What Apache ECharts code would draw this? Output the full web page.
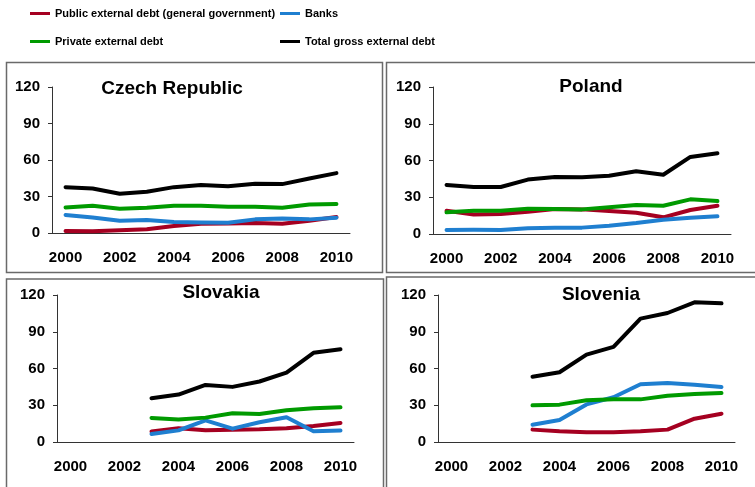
<!DOCTYPE html>
<html>
<head>
<meta charset="utf-8">
<script src="https://cdn.jsdelivr.net/npm/echarts@6/dist/echarts.min.js"></script>
<style>
  html, body { margin: 0; padding: 0; background: #fff; }
  #chart { width: 755px; height: 487px; }
</style>
</head>
<body>
<div id="chart"></div>
<script>
// years on the x axis, values in % of GDP
const years = ['2000', '2001', '2002', '2003', '2004', '2005', '2006', '2007', '2008', '2009', '2010'];
const yTicks = [0, 30, 60, 90, 120];
const seriesNames = ['Public external debt (general government)', 'Banks', 'Private external debt', 'Total gross external debt'];
const seriesColors = ['#a50021', '#1f7fd0', '#009a00', '#000000'];
const countries = ['Czech Republic', 'Poland', 'Slovakia', 'Slovenia'];

const czPublic  = [1.6, 1.4, 2.2, 3.0, 5.7, 7.6, 7.9, 8.2, 7.6, 10.1, 13.1];
const czBanks   = [14.8, 12.8, 10.1, 10.7, 9.0, 8.7, 8.5, 11.2, 12.0, 11.2, 12.6];
const czPrivate = [21.0, 22.4, 20.0, 20.8, 22.4, 22.4, 21.6, 21.6, 20.8, 23.5, 23.8];
const czTotal   = [37.7, 36.6, 32.3, 33.9, 37.7, 39.4, 38.5, 40.5, 40.2, 44.8, 49.2];

const plPublic  = [19.0, 16.0, 16.3, 18.2, 20.4, 20.1, 18.8, 17.4, 13.6, 19.6, 23.1];
const plBanks   = [3.3, 3.5, 3.3, 4.6, 5.2, 5.2, 6.8, 9.0, 11.7, 13.3, 14.4];
const plPrivate = [17.7, 19.0, 19.0, 20.7, 20.4, 20.1, 21.8, 23.7, 23.1, 28.3, 26.9];
const plTotal   = [40.0, 38.4, 38.4, 44.4, 46.5, 46.3, 47.6, 51.2, 48.4, 62.9, 65.9];

const skPublic  = [null, null, null, 8.5, 11.2, 9.5, 10.1, 10.4, 11.2, 13.1, 15.5];
const skBanks   = [null, null, null, 6.5, 9.5, 17.7, 10.9, 16.1, 20.2, 8.7, 9.3];
const skPrivate = [null, null, null, 19.6, 18.3, 19.9, 23.5, 22.9, 25.9, 27.5, 28.4];
const skTotal   = [null, null, null, 35.7, 38.7, 46.6, 45.0, 49.4, 56.7, 72.8, 75.8];

const siPublic  = [null, null, null, 10.1, 8.7, 7.9, 7.9, 8.7, 10.1, 19.0, 23.1];
const siBanks   = [null, null, null, 14.1, 18.0, 30.7, 36.5, 47.1, 48.2, 46.8, 44.9];
const siPrivate = [null, null, null, 29.9, 30.5, 34.0, 34.8, 34.8, 37.8, 39.2, 40.0];
const siTotal   = [null, null, null, 53.3, 56.9, 71.3, 77.6, 100.7, 105.3, 114.0, 113.2];

const panelData = [
  [czPublic, czBanks, czPrivate, czTotal],
  [plPublic, plBanks, plPrivate, plTotal],
  [skPublic, skBanks, skPrivate, skTotal],
  [siPublic, siBanks, siPrivate, siTotal]
];

// layout of the four panels
const grids = [
  { left: 52, top: 87, width: 298, height: 146 },
  { left: 433, top: 87, width: 298, height: 147 },
  { left: 57, top: 295, width: 297, height: 147 },
  { left: 438, top: 295, width: 297, height: 147 }
];
const titlePos = [[172, 89], [591, 87], [221, 293], [601, 295]];
const boxes = [
  { x: 6.5, y: 62.5, width: 376, height: 210 },
  { x: 386.5, y: 62.5, width: 380, height: 210 },
  { x: 6.5, y: 279, width: 377, height: 220 },
  { x: 386.5, y: 277, width: 380, height: 220 }
];
const legendPos = [[30, 8], [280, 8], [30, 36], [280, 36]];

const boldFont = 'Liberation Sans, Arial, sans-serif';
const axisColor = '#333';

const option = {
  animation: false,
  backgroundColor: '#fff',
  grid: grids.map(g => Object.assign({ containLabel: false }, g)),
  legend: seriesNames.map((name, i) => ({
    data: [name],
    left: legendPos[i][0],
    top: legendPos[i][1],
    padding: 0,
    icon: 'rect',
    itemWidth: 20,
    itemHeight: 3,
    textStyle: { fontFamily: boldFont, fontWeight: 'bold', fontSize: 11, color: '#000' }
  })),
  xAxis: grids.map((g, i) => ({
    type: 'category',
    gridIndex: i,
    data: years,
    boundaryGap: true,
    axisLine: { lineStyle: { color: axisColor, width: 1 } },
    axisTick: { interval: 0, length: 4, lineStyle: { color: axisColor } },
    axisLabel: {
      interval: 1, margin: 17,
      fontFamily: boldFont, fontWeight: 'bold', fontSize: 15, color: '#000'
    },
    splitLine: { show: false }
  })),
  yAxis: grids.map((g, i) => ({
    type: 'value',
    gridIndex: i,
    min: yTicks[0],
    max: yTicks[yTicks.length - 1],
    interval: yTicks[1] - yTicks[0],
    axisLine: { show: true, lineStyle: { color: axisColor, width: 1 } },
    axisTick: { show: true, length: 4, lineStyle: { color: axisColor } },
    axisLabel: {
      margin: 12,
      fontFamily: boldFont, fontWeight: 'bold', fontSize: 15, color: '#000'
    },
    splitLine: { show: false }
  })),
  series: [],
  graphic: []
};

panelData.forEach((sets, p) => {
  sets.forEach((values, s) => {
    option.series.push({
      type: 'line',
      name: seriesNames[s],
      xAxisIndex: p,
      yAxisIndex: p,
      data: values,
      showSymbol: false,
      symbol: 'none',
      connectNulls: false,
      color: seriesColors[s],
      lineStyle: { width: 4, color: seriesColors[s], join: 'round', cap: 'round' },
      emphasis: { disabled: true }
    });
  });
});

boxes.forEach(b => {
  option.graphic.push({
    type: 'rect',
    shape: b,
    style: { fill: 'none', stroke: '#6a6a6a', lineWidth: 1.5 },
    silent: true
  });
});

countries.forEach((c, i) => {
  option.graphic.push({
    type: 'text',
    x: titlePos[i][0],
    y: titlePos[i][1],
    style: {
      text: c,
      fontFamily: boldFont,
      fontWeight: 'bold',
      fontSize: 19,
      fill: '#000',
      textAlign: 'center',
      textVerticalAlign: 'middle'
    },
    silent: true
  });
});

const chart = echarts.init(document.getElementById('chart'));
chart.setOption(option);
</script>
</body>
</html>
